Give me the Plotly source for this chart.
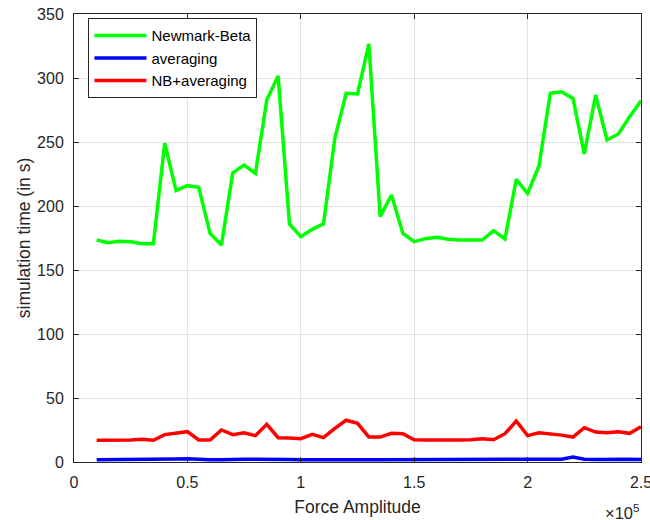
import plotly.graph_objects as go

force_amplitude = [10000, 15000, 20000, 25000, 30000, 35000, 40000, 45000, 50000, 55000,
                   60000, 65000, 70000, 75000, 80000, 85000, 90000, 95000, 100000, 105000,
                   110000, 115000, 120000, 125000, 130000, 135000, 140000, 145000, 150000, 155000,
                   160000, 165000, 170000, 175000, 180000, 185000, 190000, 195000, 200000, 205000,
                   210000, 215000, 220000, 225000, 230000, 235000, 240000, 245000, 250000]

newmark_beta = [173.4, 171.3, 172.4, 172.1, 170.6, 170.6, 249.0, 212.0, 215.9, 214.6,
                178.6, 169.5, 226.0, 232.0, 225.5, 282.8, 301.6, 186.0, 176.0, 181.8,
                186.0, 252.9, 288.0, 287.5, 326.6, 191.7, 208.6, 178.6, 172.1, 174.5,
                175.5, 174.0, 173.4, 173.3, 173.4, 180.7, 174.2, 220.8, 209.9, 231.3,
                288.0, 289.3, 284.0, 240.6, 286.7, 251.6, 256.3, 269.8, 282.3]

averaging = [1.8, 1.8, 1.8, 1.8, 1.8, 1.8, 1.9, 2.3, 2.5, 1.9,
             1.8, 1.8, 2.2, 2.2, 2.1, 2.2, 2.0, 1.9, 1.8, 1.9,
             1.8, 1.9, 2.0, 1.9, 1.8, 1.8, 1.8, 1.8, 1.8, 1.8,
             1.8, 1.8, 1.8, 1.8, 1.8, 1.9, 2.2, 2.3, 2.3, 1.9,
             1.8, 2.2, 3.8, 2.1, 1.9, 2.0, 2.6, 2.2, 2.0]

nb_averaging = [17.0, 17.0, 17.0, 17.2, 17.8, 17.0, 21.4, 22.4, 23.7, 17.2,
                17.2, 25.0, 21.4, 22.9, 20.6, 29.4, 19.0, 18.8, 18.2, 21.6,
                19.0, 26.3, 32.6, 30.2, 19.6, 19.5, 22.4, 22.1, 17.4, 17.2,
                17.0, 17.0, 17.2, 17.4, 18.2, 17.4, 22.1, 32.0, 20.6, 22.9,
                22.1, 21.0, 19.5, 26.8, 23.4, 22.9, 23.7, 22.4, 27.6]

x_tickvals = [0, 50000, 100000, 150000, 200000, 250000]
x_ticktext = ["0", "0.5", "1", "1.5", "2", "2.5"]
y_tickvals = [0, 50, 100, 150, 200, 250, 300, 350]

FONT = "Arial, Liberation Sans, sans-serif"
AX = "#262626"

fig = go.Figure()
fig.add_trace(go.Scatter(x=force_amplitude, y=newmark_beta, mode="lines", name="Newmark-Beta",
                         line=dict(color="#00FF00", width=3.5)))
fig.add_trace(go.Scatter(x=force_amplitude, y=averaging, mode="lines", name="averaging",
                         line=dict(color="#0000FF", width=3.5)))
fig.add_trace(go.Scatter(x=force_amplitude, y=nb_averaging, mode="lines", name="NB+averaging",
                         line=dict(color="#FF0000", width=3.5)))

fig.update_layout(
    width=650, height=520,
    margin=dict(l=73.5, r=8.5, t=14, b=58),
    paper_bgcolor="white", plot_bgcolor="white",
    font=dict(family=FONT, color=AX, size=16),
    showlegend=True,
    legend=dict(x=0.0255, y=0.9015, xanchor="left", yanchor="middle",
                bgcolor="white", bordercolor=AX, borderwidth=1,
                font=dict(family=FONT, size=15, color="black"),
                itemwidth=52),
    annotations=[dict(text="×10<sup>5</sup>", xref="paper", yref="paper", x=1.0, y=-0.112,
                      xanchor="right", yanchor="middle", showarrow=False,
                      font=dict(family=FONT, size=16.5, color=AX))],
)
fig.update_xaxes(range=[0, 250000], tickvals=x_tickvals, ticktext=x_ticktext,
                 showline=True, linecolor=AX, linewidth=1, mirror="ticks",
                 ticks="inside", ticklen=5, tickcolor=AX, ticklabelstandoff=6,
                 ticklabeloverflow="allow", automargin=False,
                 showgrid=True, gridcolor="#e3e3e3", gridwidth=1, zeroline=False,
                 title=dict(text="Force Amplitude", font=dict(family=FONT, size=17.5, color=AX), standoff=10))
fig.update_yaxes(range=[0, 350], tickvals=y_tickvals,
                 showline=True, linecolor=AX, linewidth=1, mirror="ticks",
                 ticks="inside", ticklen=5, tickcolor=AX, ticklabelstandoff=6,
                 ticklabeloverflow="allow", automargin=False,
                 showgrid=True, gridcolor="#e3e3e3", gridwidth=1, zeroline=False,
                 title=dict(text="simulation time (in s)", font=dict(family=FONT, size=17.5, color=AX), standoff=1))

fig.write_html("out.html", config={"displayModeBar": False},
               post_script="document.body.style.margin='0';document.body.style.overflow='hidden';")
